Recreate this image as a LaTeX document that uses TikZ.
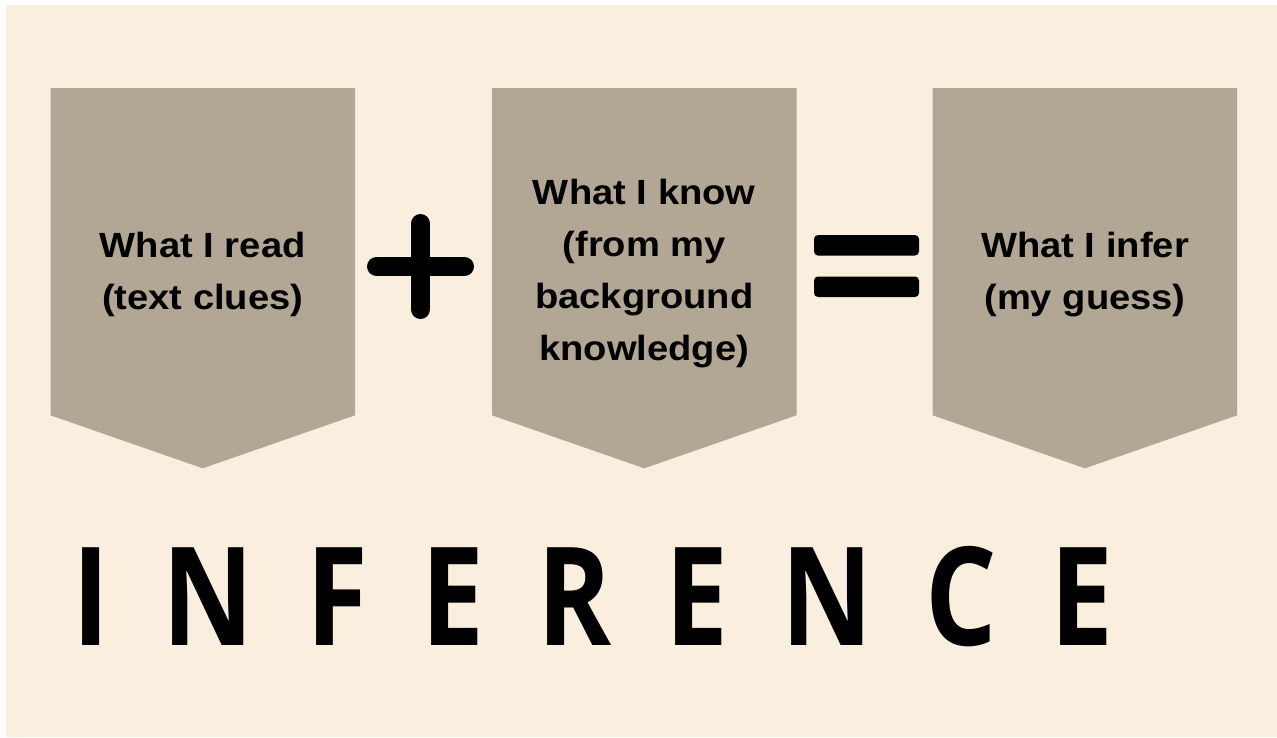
\documentclass[tikz,border=0pt]{standalone}
\usepackage{fontspec}
\setmainfont{Liberation Sans}
\newfontfamily\boxfont[FakeStretch=1.09]{Liberation Sans}
\newfontfamily\bigfont[FakeStretch=0.82,LetterSpace=38.8]{Open Sans}
\definecolor{bgbeige}{HTML}{FAEEDF}
\definecolor{boxtan}{HTML}{B2A695}
\tikzset{
  chevron/.style={fill=boxtan, draw=none},
  boxtext/.style={align=center, inner sep=0pt, font=\boxfont\bfseries\fontsize{35}{52}\selectfont, text=black},
  symbar/.style={line width=19pt, line cap=round, black},
  eqbar/.style={fill=black, rounded corners=4pt},
}
\begin{document}
\begin{tikzpicture}[x=1pt,y=-1pt]
\useasboundingbox (0,0) rectangle (1277,737);
\fill[white] (0,0) rectangle (1277,737);
\fill[bgbeige] (6,5) rectangle (1277,737);
% chevrons
\foreach \x/\n in {50.5/a, 492/b, 932.7/c}{
  \path[chevron] (\x,88) -- (\x+304.5,88) -- (\x+304.5,415.3) -- (\x+152.25,468.3) -- (\x,415.3) -- cycle;
}
\node[boxtext] (t1) at (202.75,274.5) {What I read\\(text clues)};
\node[boxtext] (t2) at (644.25,273.5) {What I know\\(from my\\background\\knowledge)};
\node[boxtext] (t3) at (1085,274.5) {What I infer\\(my guess)};
% plus
\coordinate (pc) at (420.5,266.5);
\draw[symbar] ([xshift=-44pt]pc) -- ([xshift=44pt]pc);
\draw[symbar] ([yshift=-43pt]pc) -- ([yshift=43pt]pc);
% equals
\fill[eqbar] (814,235) rectangle (919,255.5);
\fill[eqbar] (814,276.5) rectangle (919,297);
% title
\node[anchor=base west, inner sep=0pt, font=\bigfont\bfseries\fontsize{137}{137}\selectfont] (title) at (72,645) {INFERENCE};
\end{tikzpicture}
\end{document}
